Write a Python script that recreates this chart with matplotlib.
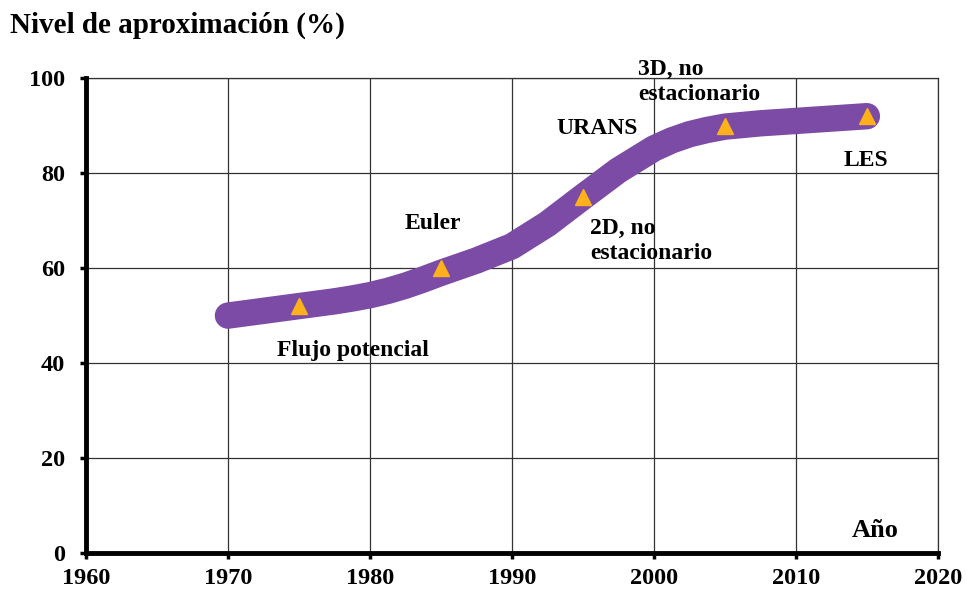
import matplotlib.pyplot as plt

plt.rcParams['font.family'] = ['Liberation Serif', 'DejaVu Serif']
plt.rcParams['font.weight'] = 'bold'

# curve
curve_years = [1970, 1972.5, 1975, 1977.5, 1978.75, 1980, 1981.25, 1982.5, 1983.75,
               1985, 1987.5, 1990, 1992.5, 1995, 1997.5, 2000, 2001.25, 2002.5,
               2003.75, 2005, 2007.5, 2010, 2012.5, 2015]
curve_vals = [50, 51, 52, 53, 53.6, 54.3, 55.2, 56.3, 57.6,
              59, 61.6, 64.6, 69.3, 75, 80.6, 85.2, 86.9, 88.2,
              89.1, 89.8, 90.5, 91, 91.5, 92]

# triangle markers
mark_years = [1975, 1985, 1995, 2005, 2015]
mark_vals = [52, 60, 75, 90, 92]

# annotations (text, x, y, ha)
labels = [
    ("Flujo potencial", 1978.8, 42.7, 'center'),
    ("Euler", 1984.4, 69.5, 'center'),
    ("URANS", 1996.0, 89.5, 'center'),
    ("2D, no\nestacionario", 1995.5, 65.7, 'left'),
    ("3D, no\nestacionario", 1998.9, 99.2, 'left'),
    ("LES", 2014.9, 82.7, 'center'),
]

fig = plt.figure(figsize=(9.67, 5.92), dpi=100)
ax = fig.add_axes([0.0889, 0.0659, 0.881, 0.802])

ax.plot(curve_years, curve_vals, color='#7B4BA5', linewidth=19,
        solid_capstyle='round', solid_joinstyle='round', zorder=3)
ax.plot(mark_years, mark_vals, linestyle='none', marker='^', markersize=12,
        color='#FFB11B', zorder=4)

for txt, x, y, ha in labels:
    ax.text(x, y, txt, ha=ha, va='center', fontsize=17, fontweight='bold',
            linespacing=1.3, zorder=5)

ax.text(2015.6, 4.8, "Año", ha='center', va='center', fontsize=19, fontweight='bold')

ax.set_xlim(1960, 2020)
ax.set_ylim(0, 100)
ax.set_xticks(range(1960, 2021, 10))
ax.set_yticks(range(0, 101, 20))
ax.grid(True, color='#333333', linewidth=0.9)
ax.set_axisbelow(True)

for s in ['top', 'right']:
    ax.spines[s].set_color('#333333')
    ax.spines[s].set_linewidth(0.9)
for s in ['left', 'bottom']:
    ax.spines[s].set_linewidth(3.5)
    ax.spines[s].set_zorder(6)

ax.tick_params(axis='both', direction='out', length=4, width=2.5, labelsize=17.5)
ax.tick_params(axis='x', pad=7)
ax.tick_params(axis='y', pad=11)
for lab in ax.get_xticklabels() + ax.get_yticklabels():
    lab.set_fontweight('bold')

fig.text(0.010, 1 - 25 / 592, "Nivel de aproximación (%)", ha='left', va='center',
         fontsize=21, fontweight='bold')

fig.savefig("out.png", dpi=100)
